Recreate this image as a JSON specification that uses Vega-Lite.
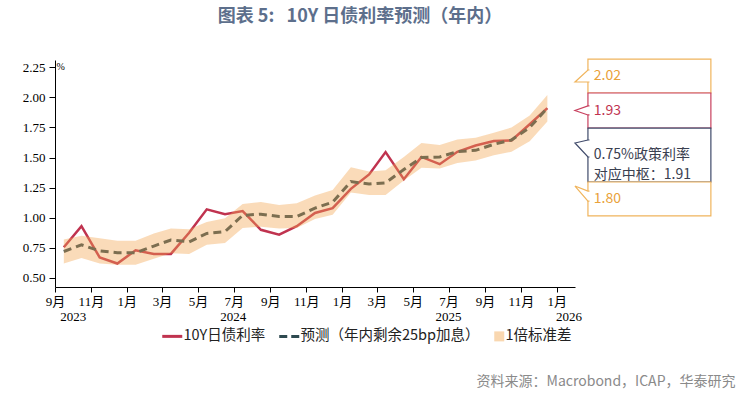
{
  "$schema": "https://vega.github.io/schema/vega-lite/v6.json",
  "width": 520,
  "height": 227,
  "autosize": {"type": "none"},
  "padding": {"left": 55, "top": 60, "right": 168, "bottom": 108},
  "background": "white",
  "title": {
    "text": "图表 5:\u00a0\u00a0\u00a010Y 日债利率预测（年内）",
    "anchor": "middle",
    "frame": "group",
    "dx": 45,
    "dy": 20,
    "offset": 34,
    "baseline": "bottom",
    "font": "Noto Sans CJK SC",
    "fontSize": 18,
    "fontWeight": "bold",
    "color": "#5d6f8c"
  },
  "config": {
    "view": {"stroke": null},
    "font": "Noto Sans CJK SC",
    "axisX": {
      "titleX": 680,
      "titleY": 94,
      "titleAlign": "right",
      "titleBaseline": "middle",
      "titleFont": "Noto Sans CJK SC",
      "titleFontSize": 14,
      "titleFontWeight": "normal",
      "titleColor": "#8a8a8a",
      "labelFont": "Liberation Serif, Noto Sans CJK SC",
      "labelFontSize": 13,
      "labelColor": "#000000",
      "labelPadding": 3,
      "labelFlush": false,
      "labelOverlap": false,
      "tickSize": 5,
      "tickColor": "#000000",
      "domainColor": "#000000",
      "grid": false
    },
    "axisY": {
      "titleAngle": 0,
      "titleX": 1,
      "titleY": 6,
      "titleAlign": "left",
      "titleBaseline": "middle",
      "titleFont": "Liberation Serif",
      "titleFontSize": 10,
      "titleFontWeight": "normal",
      "titleColor": "#000000",
      "labelFont": "Liberation Serif",
      "labelFontSize": 13,
      "labelColor": "#000000",
      "labelPadding": 4,
      "labelOverlap": false,
      "tickSize": 6,
      "tickColor": "#000000",
      "domainColor": "#000000",
      "grid": false
    }
  },
  "datasets": {
    "main": [
      {"date": "2023/09/16", "actual": 0.755, "forecast": 0.72, "lower": 0.62, "upper": 0.82},
      {"date": "2023/10/16", "actual": 0.93, "forecast": 0.775, "lower": 0.665, "upper": 0.85},
      {"date": "2023/11/16", "actual": 0.67, "forecast": 0.725, "lower": 0.62, "upper": 0.83},
      {"date": "2023/12/16", "actual": 0.62, "forecast": 0.71, "lower": 0.61, "upper": 0.81},
      {"date": "2024/01/16", "actual": 0.73, "forecast": 0.71, "lower": 0.61, "upper": 0.81},
      {"date": "2024/02/16", "actual": 0.70, "forecast": 0.765, "lower": 0.66, "upper": 0.87},
      {"date": "2024/03/16", "actual": 0.70, "forecast": 0.815, "lower": 0.705, "upper": 0.91},
      {"date": "2024/04/16", "actual": 0.875, "forecast": 0.80, "lower": 0.70, "upper": 0.905},
      {"date": "2024/05/16", "actual": 1.07, "forecast": 0.87, "lower": 0.775, "upper": 0.965},
      {"date": "2024/06/16", "actual": 1.03, "forecast": 0.885, "lower": 0.79, "upper": 0.995},
      {"date": "2024/07/16", "actual": 1.055, "forecast": 1.02, "lower": 0.915, "upper": 1.115},
      {"date": "2024/08/16", "actual": 0.90, "forecast": 1.03, "lower": 0.925, "upper": 1.13},
      {"date": "2024/09/16", "actual": 0.86, "forecast": 1.01, "lower": 0.91, "upper": 1.105},
      {"date": "2024/10/16", "actual": 0.93, "forecast": 1.01, "lower": 0.915, "upper": 1.12},
      {"date": "2024/11/16", "actual": 1.04, "forecast": 1.08, "lower": 0.99, "upper": 1.185},
      {"date": "2024/12/16", "actual": 1.08, "forecast": 1.13, "lower": 1.025, "upper": 1.23},
      {"date": "2025/01/16", "actual": 1.24, "forecast": 1.30, "lower": 1.21, "upper": 1.42},
      {"date": "2025/02/16", "actual": 1.36, "forecast": 1.28, "lower": 1.19, "upper": 1.385},
      {"date": "2025/03/16", "actual": 1.545, "forecast": 1.29, "lower": 1.19, "upper": 1.395},
      {"date": "2025/04/16", "actual": 1.32, "forecast": 1.40, "lower": 1.31, "upper": 1.505},
      {"date": "2025/05/16", "actual": 1.505, "forecast": 1.50, "lower": 1.415, "upper": 1.62},
      {"date": "2025/06/16", "actual": 1.445, "forecast": 1.505, "lower": 1.41, "upper": 1.605},
      {"date": "2025/07/16", "actual": 1.548, "forecast": 1.55, "lower": 1.455, "upper": 1.65},
      {"date": "2025/08/16", "actual": 1.60, "forecast": 1.56, "lower": 1.475, "upper": 1.665},
      {"date": "2025/09/16", "actual": 1.637, "forecast": 1.61, "lower": 1.52, "upper": 1.705},
      {"date": "2025/10/16", "actual": 1.642, "forecast": 1.645, "lower": 1.548, "upper": 1.75},
      {"date": "2025/11/16", "actual": 1.776, "forecast": 1.75, "lower": 1.635, "upper": 1.85},
      {"date": "2025/12/16", "actual": 1.91, "forecast": 1.91, "lower": 1.80, "upper": 2.02}
    ],
    "years": [
      {"date": "2023/10/02", "year": "2023"},
      {"date": "2024/06/30", "year": "2024"},
      {"date": "2025/07/01", "year": "2025"},
      {"date": "2026/01/22", "year": "2026"}
    ],
    "boxes": [
      {"id": "a", "xs": "2026/02/23", "xe": "2026/09/20", "top": 2.318, "bottom": 2.036},
      {"id": "b", "xs": "2026/02/23", "xe": "2026/09/20", "top": 2.036, "bottom": 1.745},
      {"id": "c", "xs": "2026/02/23", "xe": "2026/09/20", "top": 1.745, "bottom": 1.297},
      {"id": "d", "xs": "2026/02/23", "xe": "2026/09/20", "top": 1.297, "bottom": 1.015}
    ],
    "pointers": [
      {"id": "a", "date": "2026/02/12", "value": 2.177},
      {"id": "b", "date": "2026/02/12", "value": 1.891},
      {"id": "c", "date": "2026/02/12", "value": 1.575},
      {"id": "d", "date": "2026/02/12", "value": 1.201}
    ],
    "callouts": [
      {"id": "a", "date": "2026/03/05", "value": 2.177, "label": "2.02"},
      {"id": "b", "date": "2026/03/05", "value": 1.889, "label": "1.93"},
      {"id": "c", "date": "2026/03/05", "value": 1.521, "label": "0.75%政策利率\n对应中枢：1.91"},
      {"id": "d", "date": "2026/03/05", "value": 1.154, "label": "1.80"}
    ]
  },
  "layer": [
    {
      "data": {"name": "main"},
      "mark": {"type": "line", "strokeWidth": 2.5},
      "encoding": {
        "x": {
          "field": "date",
          "type": "temporal",
          "title": "资料来源：Macrobond，ICAP，华泰研究",
          "scale": {"domain": [{"year": 2023, "month": 9, "date": 1}, {"year": 2026, "month": 2, "date": 1}]},
          "axis": {
            "tickCount": {"interval": "month", "step": 2},
            "labelExpr": "(month(datum.value) + 1) + '月'"
          }
        },
        "y": {
          "field": "actual",
          "type": "quantitative",
          "title": "%",
          "scale": {"domain": [0.425, 2.31], "nice": false, "zero": false},
          "axis": {"values": [0.5, 0.75, 1, 1.25, 1.5, 1.75, 2, 2.25], "format": ".2f"}
        },
        "color": {
          "datum": "10Y日债利率",
          "scale": {
            "domain": ["10Y日债利率", "预测（年内剩余25bp加息）", "1倍标准差"],
            "range": ["#c0334f", "#2e4a50", "#f2a64f"]
          },
          "legend": {
            "title": null,
            "orient": "none",
            "legendX": 110,
            "legendY": 269,
            "direction": "horizontal",
            "columns": 3,
            "symbolSize": 400,
            "symbolStrokeWidth": 3,
            "labelFont": "Noto Sans CJK SC",
            "labelFontSize": 14.5,
            "labelColor": "#222222",
            "labelOffset": 4,
            "labelLimit": 400,
            "columnPadding": 7,
            "encode": {
              "symbols": {
                "update": {
                  "shape": {"signal": "datum.value === '1倍标准差' ? 'M0,-0.5H1V0.5H0Z' : 'stroke'"},
                  "fill": {"signal": "datum.value === '1倍标准差' ? '#f2a64f' : 'transparent'"},
                  "fillOpacity": {"signal": "datum.value === '1倍标准差' ? 0.45 : 1"},
                  "stroke": {"signal": "datum.value === '1倍标准差' ? 'transparent' : (datum.value === '10Y日债利率' ? '#d03a5a' : '#50566a')"},
                  "strokeDash": {"signal": "datum.value === '预测（年内剩余25bp加息）' ? [8, 4] : [100, 0]"},
                  "strokeWidth": {"signal": "datum.value === '1倍标准差' ? 0 : 3"},
                  "opacity": {"value": 1}
                }
              }
            }
          }
        }
      }
    },
    {
      "data": {"name": "main"},
      "mark": {"type": "line", "strokeWidth": 3, "strokeDash": [8, 5]},
      "encoding": {
        "x": {"field": "date", "type": "temporal", "title": "资料来源：Macrobond，ICAP，华泰研究"},
        "y": {"field": "forecast", "type": "quantitative", "title": "%", "axis": {"values": [0.5, 0.75, 1, 1.25, 1.5, 1.75, 2, 2.25], "format": ".2f"}},
        "color": {"datum": "预测（年内剩余25bp加息）"}
      }
    },
    {
      "data": {"name": "main"},
      "mark": {"type": "area", "opacity": 0.4},
      "encoding": {
        "x": {"field": "date", "type": "temporal", "title": "资料来源：Macrobond，ICAP，华泰研究"},
        "y": {"field": "lower", "type": "quantitative", "title": "%", "axis": {"values": [0.5, 0.75, 1, 1.25, 1.5, 1.75, 2, 2.25], "format": ".2f"}},
        "y2": {"field": "upper"},
        "color": {"datum": "1倍标准差"}
      }
    },
    {
      "data": {"name": "years"},
      "mark": {"type": "text", "font": "Liberation Serif", "fontSize": 13, "color": "#000000", "baseline": "middle", "align": "center"},
      "encoding": {
        "x": {"field": "date", "type": "temporal", "title": "资料来源：Macrobond，ICAP，华泰研究"},
        "y": {"datum": 0.175, "type": "quantitative", "title": "%", "axis": {"values": [0.5, 0.75, 1, 1.25, 1.5, 1.75, 2, 2.25], "format": ".2f"}},
        "text": {"field": "year"}
      }
    },
    {
      "data": {"name": "boxes"},
      "mark": {"type": "rect", "fill": "white", "strokeWidth": 1.2},
      "encoding": {
        "x": {"field": "xs", "type": "temporal", "title": "资料来源：Macrobond，ICAP，华泰研究"},
        "x2": {"field": "xe"},
        "y": {"field": "top", "type": "quantitative", "title": "%", "axis": {"values": [0.5, 0.75, 1, 1.25, 1.5, 1.75, 2, 2.25], "format": ".2f"}},
        "y2": {"field": "bottom"},
        "stroke": {
          "field": "id",
          "type": "nominal",
          "scale": {"domain": ["a", "b", "c", "d"], "range": ["#f0b45c", "#c8405e", "#3f4a6a", "#f0b45c"]},
          "legend": null
        }
      }
    },
    {
      "data": {"name": "pointers"},
      "mark": {"type": "point", "filled": true, "fill": "white", "size": 400, "strokeWidth": 1.2, "opacity": 1},
      "encoding": {
        "x": {"field": "date", "type": "temporal", "title": "资料来源：Macrobond，ICAP，华泰研究"},
        "y": {"field": "value", "type": "quantitative", "title": "%", "axis": {"values": [0.5, 0.75, 1, 1.25, 1.5, 1.75, 2, 2.25], "format": ".2f"}},
        "stroke": {"field": "id", "type": "nominal", "legend": null},
        "shape": {
          "field": "id",
          "type": "nominal",
          "scale": {
            "domain": ["a", "b", "c", "d"],
            "range": [
              "M0.8,-0.6L0.65,-0.6L-0.65,0.6L0.8,0.6",
              "M0.8,-0.45L0.65,-0.45L-0.65,0L0.65,0.45L0.8,0.45",
              "M0.8,-0.85L0.65,-0.85L-0.65,-0.55L0.65,0.85L0.8,0.85",
              "M0.8,-0.25L0.65,-0.25L-0.65,-0.75L0.65,0.75L0.8,0.75"
            ]
          },
          "legend": null
        }
      }
    },
    {
      "data": {"name": "callouts"},
      "mark": {"type": "text", "font": "Noto Sans CJK SC", "fontSize": 14, "align": "left", "baseline": "middle", "lineBreak": "\n", "lineHeight": 20},
      "encoding": {
        "x": {"field": "date", "type": "temporal", "title": "资料来源：Macrobond，ICAP，华泰研究"},
        "y": {"field": "value", "type": "quantitative", "title": "%", "axis": {"values": [0.5, 0.75, 1, 1.25, 1.5, 1.75, 2, 2.25], "format": ".2f"}},
        "text": {"field": "label"},
        "fill": {
          "field": "id",
          "type": "nominal",
          "scale": {"domain": ["a", "b", "c", "d"], "range": ["#e9a23b", "#c0334f", "#3a4050", "#e9a23b"]},
          "legend": null
        }
      }
    }
  ]
}
